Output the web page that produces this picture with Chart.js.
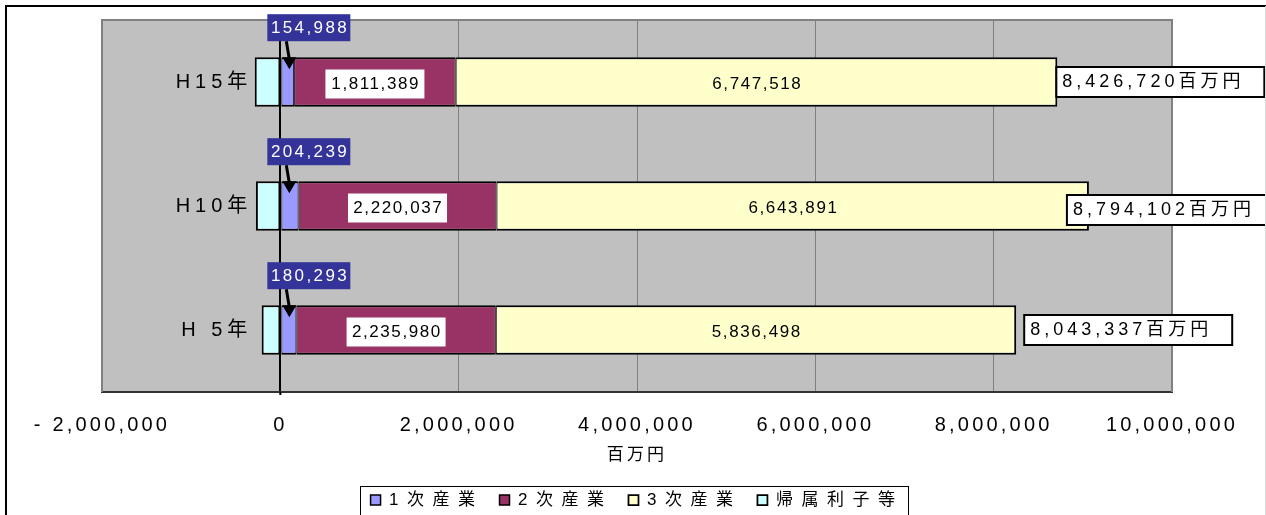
<!DOCTYPE html>
<html><head><meta charset="utf-8">
<script src="https://cdn.jsdelivr.net/npm/chart.js@4.4.1/dist/chart.umd.min.js"></script>
<style>html,body{margin:0;padding:0;background:#fff;} canvas{display:block;}</style>
</head><body>
<canvas id="c" width="1266" height="515"></canvas>
<script>
// ---- data ----
const categories = ['H15年', 'H10年', 'H 5年'];
const seriesNames = ['1次産業', '2次産業', '3次産業', '帰属利子等'];
const primary   = [154988, 204239, 180293];
const secondary = [1811389, 2220037, 2235980];
const tertiary  = [6747518, 6643891, 5836498];
const imputed   = [-287175, -274065, -209434];
const totals    = [8426720, 8794102, 8043337];
const xTickLabels = ['- 2,000,000', '0', '2,000,000', '4,000,000', '6,000,000', '8,000,000', '10,000,000'];
const unitLabel = '百万円';

// ---- annotation nudges (style only) ----
const totalBoxNudge = [{dx: -1, dy: 0}, {dx: -22, dy: 4}, {dx: 8, dy: 0}];

const FONT = "'Liberation Sans', 'Noto Sans CJK JP', sans-serif";
const fmt = n => n.toLocaleString('en-US');

function txt(ctx, s, x, y, size, spacing, color, align) {
  ctx.save();
  ctx.font = size + 'px ' + FONT;
  ctx.letterSpacing = spacing + 'px';
  ctx.fillStyle = color;
  ctx.textBaseline = 'middle';
  ctx.textAlign = 'left';
  const w = ctx.measureText(s).width - spacing;
  const sx = align === 'center' ? x - w / 2 : (align === 'right' ? x - w : x);
  ctx.fillText(s, sx, y);
  ctx.restore();
}

const decor = {
  id: 'decor',
  afterInit(chart) {
    const lg = chart.legend;
    if (!lg) return;
    const wrap = (fn) => function () {
      const c = this.ctx; const o = c.letterSpacing;
      c.letterSpacing = '8.5px';
      const r = fn.apply(this, arguments);
      c.letterSpacing = o;
      return r;
    };
    lg.fit = wrap(lg.fit);
    lg.draw = wrap(lg.draw);
  },
  beforeDraw(chart) {
    const {ctx, chartArea: a} = chart;
    ctx.save();
    ctx.fillStyle = '#C0C0C0';
    ctx.fillRect(a.left, a.top, a.right - a.left, a.bottom - a.top);
    ctx.restore();
    ctx.letterSpacing = '3.2px';
  },
  beforeDatasetsDraw(chart) {
    const {ctx, chartArea: a} = chart;
    const zero = chart.scales.x.getPixelForValue(0);
    ctx.save();
    ctx.strokeStyle = '#808080';
    ctx.lineWidth = 2;
    ctx.beginPath();
    ctx.moveTo(a.left, a.bottom);
    ctx.lineTo(a.left, a.top);
    ctx.lineTo(a.right, a.top);
    ctx.lineTo(a.right, a.bottom);
    ctx.stroke();
    // small tick mark of the category axis below the plot
    ctx.strokeStyle = '#000';
    ctx.beginPath();
    ctx.moveTo(zero, a.bottom); ctx.lineTo(zero, a.bottom + 3);
    ctx.stroke();
    ctx.restore();
  },
  afterDatasetsDraw(chart) {
    const ctx = chart.ctx;
    const xs = chart.scales.x;
    const zero = xs.getPixelForValue(0);
    const m0 = chart.getDatasetMeta(0).data;
    const m1 = chart.getDatasetMeta(1).data;
    const m2 = chart.getDatasetMeta(2).data;
    categories.forEach((cat, i) => {
      const b = m0[i], r = m1[i], y = m2[i];
      const cy = b.y;
      const top = b.y - b.height / 2;
      // category label
      txt(ctx, cat, zero - 33, cy, 20, 5, '#000', 'right');
      // red label
      const rcx = (r.x + r.base) / 2;
      ctx.save(); ctx.fillStyle = '#fff';
      ctx.fillRect(rcx - 49.5, cy + 2 - 14.5, 99, 29); ctx.restore();
      txt(ctx, fmt(secondary[i]), rcx, cy + 2, 17, 1.6, '#000', 'center');
      // yellow label
      txt(ctx, fmt(tertiary[i]), (y.x + y.base) / 2, cy + 2, 17, 1.6, '#000', 'center');
      // blue label box + arrow
      const bx = b.base - 14, by = top - 43;
      ctx.save();
      ctx.fillStyle = '#333399';
      ctx.fillRect(bx, by, 83, 27);
      ctx.restore();
      txt(ctx, fmt(primary[i]), bx + 41.5, by + 14, 17, 2.4, '#fff', 'center');
      ctx.save();
      ctx.strokeStyle = '#000'; ctx.fillStyle = '#000'; ctx.lineWidth = 3;
      ctx.beginPath();
      ctx.moveTo(b.base + 5, by + 27);
      ctx.lineTo(b.base + 8, top + 2);
      ctx.stroke();
      ctx.beginPath();
      ctx.moveTo(b.base + 1, top);
      ctx.lineTo(b.base + 15, top);
      ctx.lineTo(b.base + 8, top + 12);
      ctx.closePath(); ctx.fill();
      ctx.restore();
      // total label
      const n = totalBoxNudge[i];
      const tx = y.x + n.dx, ty = cy - 15 + n.dy;
      ctx.save();
      ctx.fillStyle = '#fff'; ctx.strokeStyle = '#000'; ctx.lineWidth = 2;
      ctx.fillRect(tx, ty, 208, 30);
      ctx.strokeRect(tx, ty, 208, 30);
      ctx.restore();
      txt(ctx, fmt(totals[i]) + unitLabel, tx + 6, ty + 15, 18, 4, '#000', 'left');
    });
  },
  afterDraw(chart) {
    const ctx = chart.ctx;
    ctx.letterSpacing = '0px';
    const hb = chart.legend && chart.legend.legendHitBoxes;
    ctx.save();
    if (hb && hb.length) {
      const first = hb[0], last = hb[hb.length - 1];
      const l = first.left - 11, r = last.left + last.width + 4;
      const t = first.top + first.height / 2 - 14.5;
      ctx.strokeStyle = '#000'; ctx.lineWidth = 1;
      ctx.strokeRect(Math.round(l) + 0.5, Math.round(t) + 0.5, Math.round(r - l), 30);
    }
    // outer chart border
    ctx.strokeStyle = '#000'; ctx.lineWidth = 2;
    ctx.beginPath();
    ctx.moveTo(6, 515); ctx.lineTo(6, 6); ctx.lineTo(1266, 6);
    ctx.stroke();
    ctx.strokeStyle = '#d8d8d8'; ctx.lineWidth = 1;
    ctx.beginPath(); ctx.moveTo(1265.5, 6); ctx.lineTo(1265.5, 515); ctx.stroke();
    ctx.restore();
  }
};

const commonBar = { categoryPercentage: 1.0, barPercentage: 0.4, borderColor: '#000', borderSkipped: false };

new Chart(document.getElementById('c'), {
  type: 'bar',
  data: {
    labels: categories,
    datasets: [
      Object.assign({ label: seriesNames[0], data: primary,   backgroundColor: '#9999FF', borderWidth: {top: 2, bottom: 2, left: 1, right: 1} }, commonBar),
      Object.assign({ label: seriesNames[1], data: secondary, backgroundColor: '#993366', borderWidth: {top: 2, bottom: 2, left: 1, right: 1} }, commonBar),
      Object.assign({ label: seriesNames[2], data: tertiary,  backgroundColor: '#FFFFCC', borderWidth: {top: 2, bottom: 2, left: 1, right: 2} }, commonBar),
      Object.assign({ label: seriesNames[3], data: imputed,   backgroundColor: '#CCFFFF', borderWidth: {top: 2, bottom: 2, left: 2, right: 1} }, commonBar)
    ]
  },
  options: {
    indexAxis: 'y',
    responsive: false,
    animation: false,
    devicePixelRatio: 1,
    layout: { padding: { left: 102, right: 94, top: 20, bottom: -3.5 } },
    scales: {
      x: {
        stacked: true,
        min: -2000000, max: 10000000,
        afterFit(s) { s.height = 83.5; },
        ticks: {
          stepSize: 2000000, autoSkip: false, maxRotation: 0, minRotation: 0,
          padding: 21, color: '#000', font: { family: FONT, size: 20 },
          callback: (v, i) => xTickLabels[i]
        },
        grid: {
          drawTicks: false,
          color: c => (c.tick && c.tick.value === 0) ? '#000' : '#808080',
          lineWidth: c => (c.tick && c.tick.value === 0) ? 2 : 1
        },
        border: { display: true, color: '#333', width: 2 },
        title: { display: true, text: unitLabel, color: '#000', font: { family: FONT, size: 17 }, padding: { top: 0, bottom: 10 } }
      },
      y: { stacked: true, display: false }
    },
    plugins: {
      tooltip: { enabled: false },
      legend: {
        position: 'bottom',
        labels: { boxWidth: 10, boxHeight: 10, padding: 16, color: '#000', font: { family: FONT, size: 17 } }
      }
    }
  },
  plugins: [decor]
});
</script>
</body></html>
